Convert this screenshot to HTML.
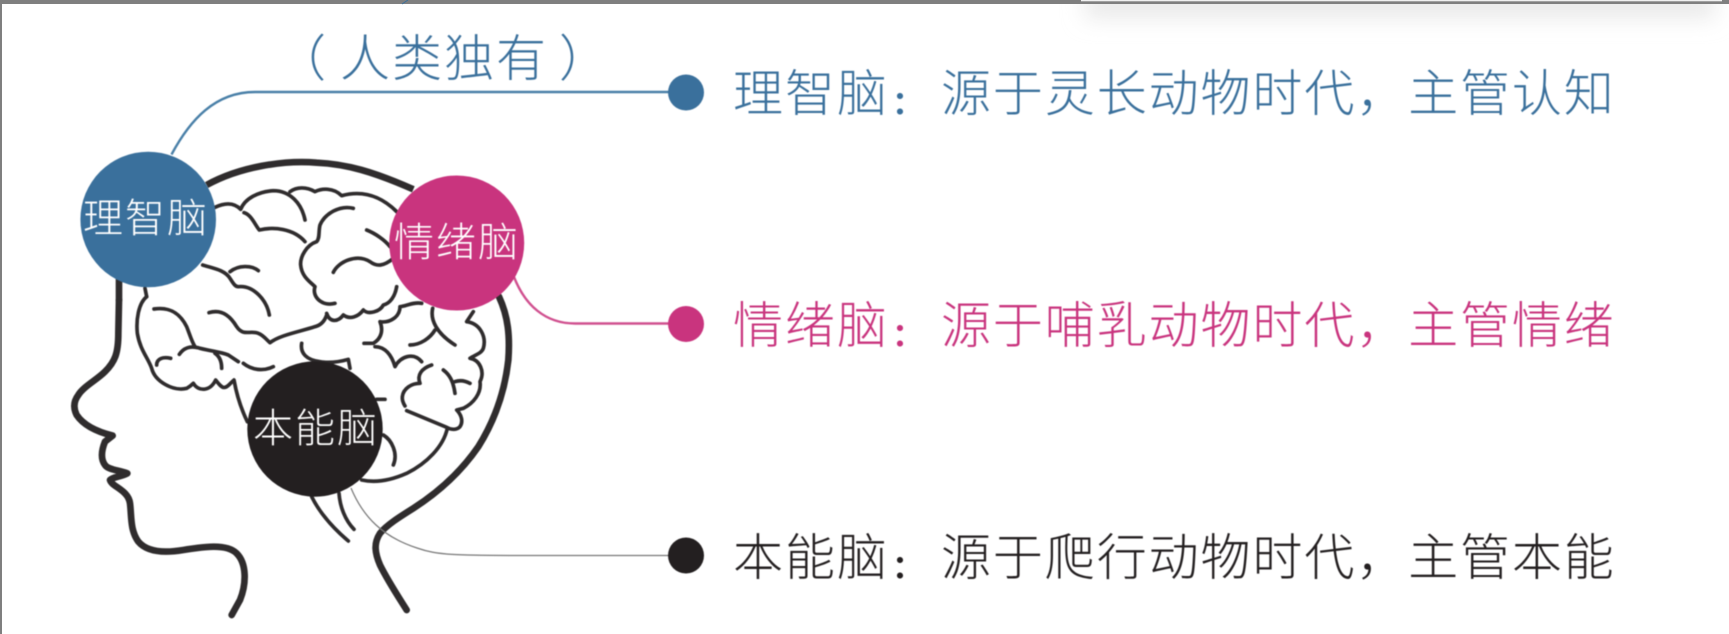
<!DOCTYPE html>
<html lang="zh"><head><meta charset="utf-8"><style>
html,body{margin:0;padding:0;background:#fff;width:1729px;height:634px;overflow:hidden}
svg{display:block}
.s{filter:blur(.5px)}
text{font-family:"Liberation Sans","Noto Sans CJK SC",sans-serif;font-weight:300}
.big{font-size:50px;letter-spacing:1.9px}
.col{font-size:32px;font-weight:700}
.lab{font-size:40px;letter-spacing:2px;fill:#fff}
</style></head><body>
<svg xmlns="http://www.w3.org/2000/svg" width="1729" height="634" viewBox="0 0 1729 634">
<defs><filter id="b" x="-10%" y="-200%" width="120%" height="500%"><feGaussianBlur stdDeviation="11"/></filter></defs>
<rect width="1729" height="634" fill="#fff"/>
<rect x="1085" y="-12" width="630" height="30" fill="#e9e9e9" filter="url(#b)"/>
<rect x="0" y="0" width="1729" height="4" fill="#7f7f7f"/>
<rect x="0" y="0" width="2" height="634" fill="#7f7f7f"/>
<rect x="1081" y="0" width="641" height="1.3" fill="#f0f0f0"/>
<path d="M402,4 L408,0" stroke="#3a709c" stroke-width="1" fill="none"/>

<g class="s">
<path d="M171.5,154.5 C190,120 215,92 255,92 H686" fill="none" stroke="#4a80a8" stroke-width="2.4"/>
<path d="M514,277 C525,305 545,323.5 575,323.5 H686" fill="none" stroke="#d0508f" stroke-width="2.4"/>

<g fill="none" stroke="#2f2c2d" stroke-linecap="round" stroke-linejoin="round">
<g transform="translate(130,150) scale(.33333)" stroke-width="11">
<path d="M230,105 C330,50 460,30 560,38 C650,42 730,65 850,118" stroke-width="20" stroke-linecap="butt"/>
<path d="M255,172 C280,160 310,155 332,178 C345,145 385,125 430,122 C480,122 515,160 525,210"/>
<path d="M480,125 C500,110 530,110 555,125 C575,115 610,112 635,137 C680,125 740,125 800,185"/>
<path d="M342,188 C365,195 375,225 388,240 C430,230 490,235 525,275"/>
<path d="M670,175 C630,165 585,190 570,225 C565,245 570,265 560,275 C530,285 510,320 512,345 C515,380 540,395 555,410 C545,440 575,470 615,460"/>
<path d="M610,367 C625,335 680,310 720,335 C740,350 760,350 790,325"/>
<path d="M218,345 C250,355 285,360 300,385 C310,400 315,410 325,410 C370,405 410,450 418,495"/>
<path d="M300,365 C325,345 365,345 385,362"/>
<path d="M237,488 C280,475 305,505 320,530 C340,560 360,540 385,550 C400,555 410,570 420,578 C450,555 510,545 555,530 C575,525 585,510 590,495"/>
<path d="M45,415 L50,440"/>
<path d="M340,640 C365,660 400,665 430,650"/>
</g>
<g transform="translate(300,150) scale(.33333)" stroke-width="11">
<path d="M290,410 C285,440 270,460 250,465 C240,485 205,495 190,480 C175,500 150,510 130,495 C115,515 90,520 80,490"/>
<path d="M200,240 C225,250 255,270 270,290"/>
<path d="M365,460 C340,455 315,470 300,470 C300,500 270,520 240,515 C250,540 245,565 220,580 L192,580"/>
<path d="M398,475 C390,510 410,550 465,585"/>
<path d="M330,585 C360,585 390,565 405,540"/>
</g>
<g transform="translate(50,300) scale(.33333)" stroke-width="11">
<path d="M290,-10 C265,10 258,60 262,100 C270,150 295,175 305,205 C315,245 370,275 410,265 C420,260 425,255 430,250 C445,275 480,275 497,240 C505,250 515,265 525,262 C535,260 540,250 552,240 C560,285 575,330 592,365"/>
<path d="M312,27 C360,20 390,40 410,80 C420,105 425,125 435,140"/>
<path d="M388,163 C400,145 420,135 450,145 C490,155 510,155 535,165 L565,185"/>
<path d="M320,195 C320,175 340,170 362,175"/>
<path d="M495,160 C510,170 515,185 515,205"/>
<path d="M207,0 L205,100 C205,160 195,185 165,215 C140,240 100,260 85,285 C70,305 70,325 80,345 C100,375 140,395 188,407 L165,425 C155,450 150,475 165,495 C175,510 205,510 232,520 C215,530 190,530 180,540 C185,560 235,570 240,610 C245,650 240,690 265,725 C290,755 340,760 400,750 C460,740 530,730 560,760 C590,790 590,850 570,900 L545,945" stroke-width="20"/>
<path d="M207,-120 L207,0" stroke-width="20"/>
</g>
<g transform="translate(240,340) scale(.33333)" stroke-width="11">
<path d="M777,-130 C805,-70 810,-10 805,60 C795,150 765,240 715,320 C660,400 590,460 520,505 C480,530 440,555 420,580 C400,610 405,640 420,675 C445,725 475,770 500,810" stroke-width="20"/>
<path d="M185,10 C180,40 200,60 240,65 C270,70 300,65 325,58 L330,85"/>
<path d="M700,-85 L680,-55 C720,-50 740,-10 730,25 C725,40 705,45 690,55 C720,60 735,95 720,125 C725,160 700,190 670,205 L650,210 C665,225 670,245 660,260 C650,270 635,270 620,262 L500,212"/>
<path d="M622,265 C610,320 560,370 500,400 C455,420 410,430 365,420"/>
<path d="M575,75 C545,85 530,105 540,130 C515,130 490,145 487,170 C486,180 490,190 495,198"/>
<path d="M610,90 C630,105 640,125 645,160"/>
<path d="M645,125 C660,120 675,122 690,130"/>
<path d="M405,20 C435,20 455,45 465,80 C480,50 520,35 545,65"/>
<path d="M430,285 C455,300 475,340 460,375"/>
<path d="M410,178 L435,178"/>
<path d="M215,470 C240,520 280,565 325,603"/>
<path d="M297,460 C300,500 315,540 342,568"/>
</g>
</g>
<path d="M351,488 C363,517 383,537 417,548 C437,555 453,555.5 530,555.5 H686" fill="none" stroke="#777" stroke-width="1.2"/>

<circle cx="148.2" cy="219.5" r="67.8" fill="#3a709c"/>
<circle cx="456.7" cy="243" r="67.5" fill="#c9347e"/>
<circle cx="315" cy="429" r="67.7" fill="#231f20"/>
<circle cx="686" cy="92.5" r="18" fill="#3a709c"/>
<circle cx="686" cy="324" r="18" fill="#c9347e"/>
<circle cx="686" cy="555.5" r="18" fill="#231f20"/>

<text class="lab" x="83" y="232">理智脑</text>
<text class="lab" x="394" y="256">情绪脑</text>
<text class="lab" x="253" y="442">本能脑</text>

<g fill="#3a709c">
<text class="big" x="276" y="76">（</text>
<text class="big" x="340" y="76" style="letter-spacing:2px">人类独有</text>
<text class="big" x="559" y="76">）</text>
<text class="big" x="733" y="111" style="letter-spacing:2px">理智脑</text>
<text class="col" x="892" y="114">：</text>
<text class="big" x="941" y="111">源于灵长动物时代，主管认知</text>
</g>
<g fill="#c9347e">
<text class="big" x="733" y="343" style="letter-spacing:2px">情绪脑</text>
<text class="col" x="892" y="346">：</text>
<text class="big" x="941" y="343">源于哺乳动物时代，主管情绪</text>
</g>
<g fill="#231f20">
<text class="big" x="733" y="575" style="letter-spacing:2px">本能脑</text>
<text class="col" x="892" y="578">：</text>
<text class="big" x="941" y="575">源于爬行动物时代，主管本能</text>
</g>
</g>
</svg>
</body></html>
